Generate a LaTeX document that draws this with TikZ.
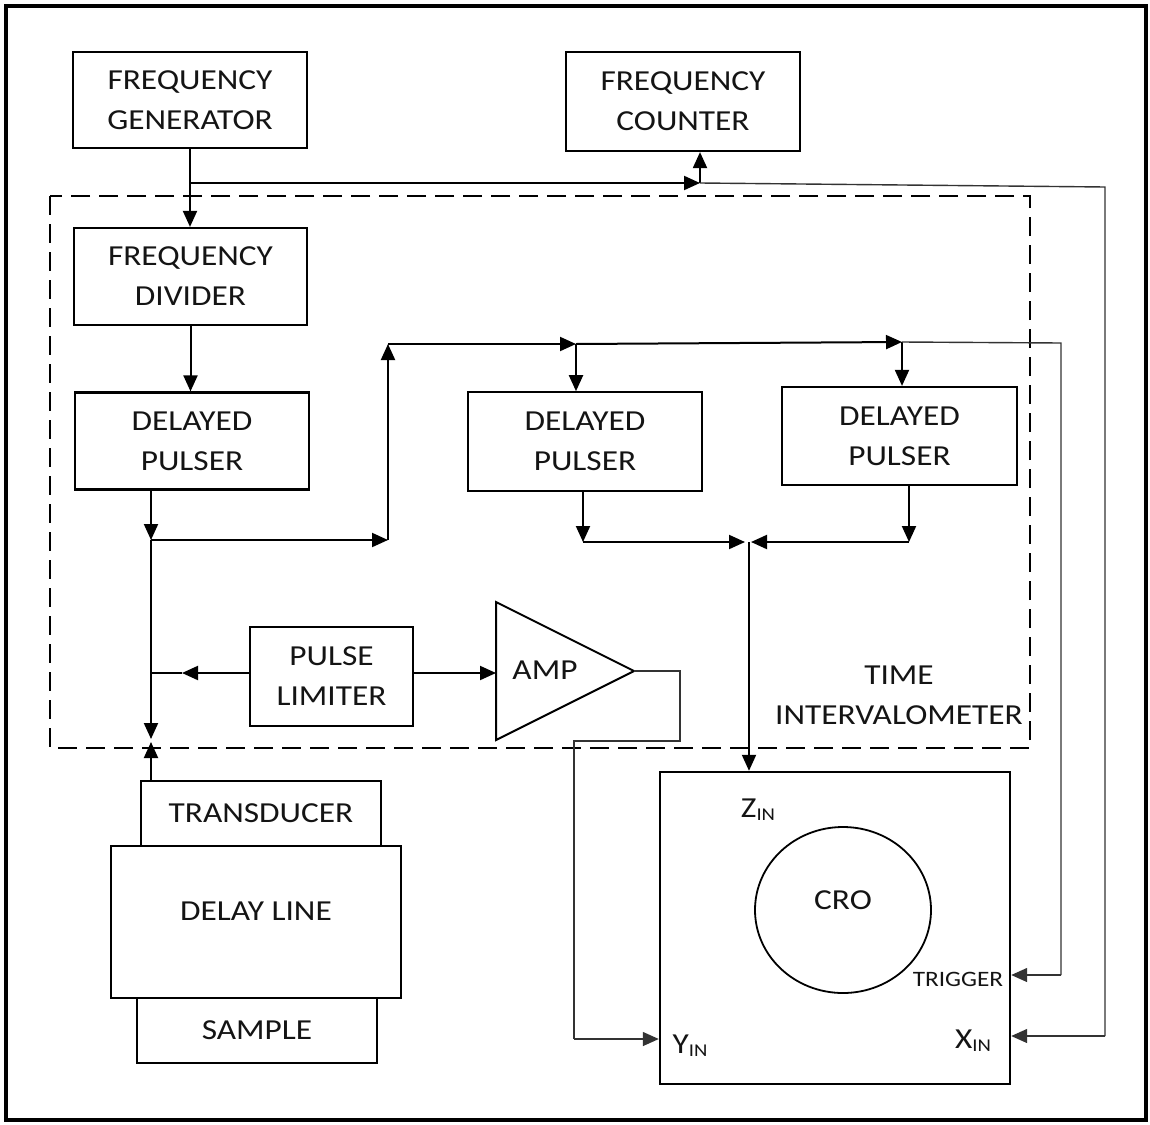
\documentclass[tikz,border=0pt]{standalone}
\usepackage{fontspec}
\setmainfont{Carlito}[FakeStretch=1.15]
\usetikzlibrary{arrows.meta}
\newcommand\mainfnt{\fontsize{29}{40}\selectfont}
\newcommand\smallfnt{\fontsize{22}{26}\selectfont}
\newcommand\subIN{{\fontsize{18}{18}\selectfont\raisebox{-3pt}{IN}}}
\begin{document}
\begin{tikzpicture}[x=1pt,y=-1pt,
  box/.style={draw, line width=2.2pt, align=center, inner sep=0pt, font=\mainfnt, text=black!92},
  thinbox/.style={box, line width=1.6pt},
  lbl/.style={inner sep=0pt, font=\mainfnt, text=black!92, align=center},
  conn/.style={line width=2pt},
  thinconn/.style={line width=1.4pt, black!80},
  arr/.style={-{Triangle[length=16pt,width=14pt]}},
  dashbox/.style={line width=2.2pt, dash pattern=on 19pt off 9pt}]
\useasboundingbox (0,0) rectangle (1150,1124);
\draw[line width=4pt] (6,6) rectangle (1146,1120);

% boxes
\node[box, minimum width=234pt, minimum height=96pt] (FG) at (190,100) {FREQUENCY\\GENERATOR};
\node[box, minimum width=234pt, minimum height=99pt] (FC) at (683,101.5) {FREQUENCY\\COUNTER};
\node[box, minimum width=233pt, minimum height=97pt] (FD) at (190.5,276.5) {FREQUENCY\\DIVIDER};
\node[box, minimum width=234pt, minimum height=97pt] (DP1) at (192,441) {DELAYED\\PULSER};
\node[thinbox, minimum width=234pt, minimum height=99pt] (DP2) at (585,441.5) {DELAYED\\PULSER};
\node[box, minimum width=235pt, minimum height=98pt] (DP3) at (899.5,436) {DELAYED\\PULSER};
\node[box, minimum width=163pt, minimum height=99pt] (PL) at (331.5,676.5) {PULSE\\LIMITER};
\node[thinbox, minimum width=240pt, minimum height=65pt] (TR) at (261,813.5) {TRANSDUCER};
\node[box, line width=2.6pt, minimum width=290pt, minimum height=152pt] (DL) at (256,922) {};
\node[lbl] (DLt) at (256,911) {DELAY LINE};
\node[thinbox, minimum width=240pt, minimum height=65pt] (SA) at (257,1030.5) {SAMPLE};
\node[box, line width=2.4pt, minimum width=350pt, minimum height=312pt] (CRO) at (835,928) {};
\draw[line width=1.8pt] (843,910) ellipse [x radius=88pt, y radius=83pt];
\node[lbl] (CROt) at (843,900) {CRO};
\node[lbl] (Zin) at (758,810) {Z\subIN};
\node[lbl] (Yin) at (690,1046) {Y\subIN};
\node[lbl] (Xin) at (973,1041) {X\subIN};
\node[lbl, font=\smallfnt] (Trig) at (958,979) {TRIGGER};

% amplifier
\coordinate (ampTop) at (496,602);
\coordinate (ampBot) at (496,740);
\coordinate (ampO) at (634,671);
\coordinate (ampL) at (496,673);
\draw[line width=2pt, line join=miter] (ampTop) -- (ampO) -- (ampBot) -- cycle;
\node[lbl] (AMP) at (545,670) {AMP};

% time intervalometer frame
\draw[dashbox] (50,196) rectangle (1030,748);
\node[lbl] (TI) at (899,695) {TIME\\INTERVALOMETER};

% top connectors
\coordinate (j1) at (190,183);
\coordinate (c1) at (700,183);
\coordinate (x1) at (1105,187);
\coordinate (x2) at (1105,1036);
\draw[conn,arr] (FG.south) -- (FG.south |- FD.north);
\draw[conn,arr] (j1) -- (c1);
\draw[conn,arr] (c1) -- (c1 |- FC.south);
\draw[thinconn] (c1) -- (x1) -- (x2);
\draw[thinconn,arr] (x2) -- (CRO.east |- x2);

\draw[conn,arr] (FD.south) -- (FD.south |- DP1.north);

% delayed pulser chain
\coordinate (j2) at (151,540);
\coordinate (j3) at (388,540);
\coordinate (j4) at (388,344);
\coordinate (j5) at (576,344);
\coordinate (j6) at (902,342);
\coordinate (t1) at (1061,343);
\coordinate (t2) at (1061,975);
\draw[conn,arr] (DP1.south -| j2) -- (j2);
\draw[conn,arr] (j2) -- (j3);
\draw[conn,arr] (j3) -- (j4);
\draw[conn,arr] (j4) -- (j5);
\draw[conn,arr] (j5) -- (j5 |- DP2.north);
\draw[conn,arr] (j5) -- (j6);
\draw[conn,arr] (j6) -- (j6 |- DP3.north);
\draw[thinconn] (j6) -- (t1) -- (t2);
\draw[thinconn,arr] (t2) -- (CRO.east |- t2);

% outputs to Z
\coordinate (k1) at (583,542);
\coordinate (k2) at (745,542);
\coordinate (k3) at (909,542);
\coordinate (k4) at (751,542);
\coordinate (k5) at (749,542);
\draw[conn,arr] (DP2.south -| k1) -- (k1);
\draw[conn,arr] (k1) -- (k2);
\draw[conn,arr] (DP3.south -| k3) -- (k3);
\draw[conn,arr] (k3) -- (k4);
\draw[conn,arr] (k5) -- (k5 |- CRO.north);

% left vertical and transducer
\coordinate (j7) at (151,739);
\coordinate (j8) at (151,742);
\draw[conn,arr] (j2) -- (j7);
\draw[conn,arr] (TR.north -| j8) -- (j8);

% pulse limiter
\coordinate (plm) at (182,673);
\draw[conn,arr] (PL.west |- plm) -- (plm);
\draw[conn] (plm) -- (j2 |- plm);
\draw[conn,arr] (PL.east |- ampL) -- (ampL);

% amp output to Y
\coordinate (a1) at (680,671);
\coordinate (a2) at (680,741);
\coordinate (a3) at (574,741);
\coordinate (a4) at (574,1039);
\draw[thinconn] (ampO) -- (a1) -- (a2) -- (a3) -- (a4);
\draw[thinconn,arr] (a4) -- (CRO.west |- a4);
\end{tikzpicture}
\end{document}
